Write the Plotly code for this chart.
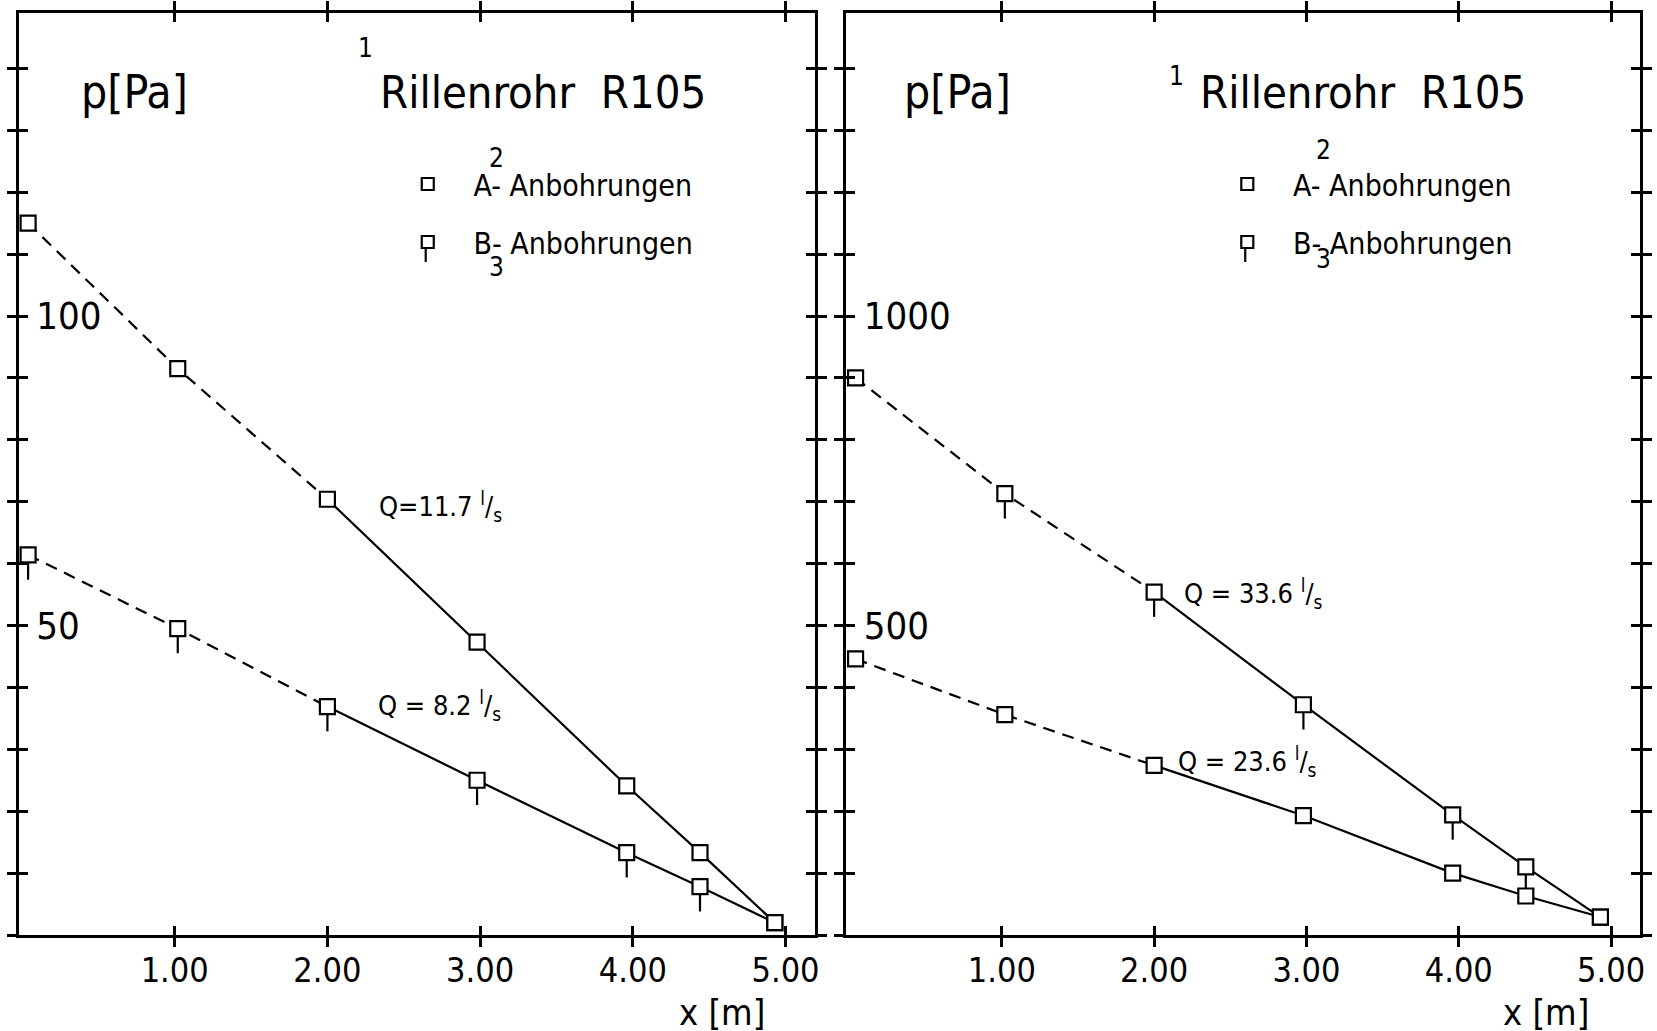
import plotly.graph_objects as go

# ---------------- data ----------------
x_pos = [0.04, 1.02, 2.00, 2.98, 3.96, 4.44, 4.93]

# left panel: Q = 11.7 l/s and Q = 8.2 l/s   (p in Pa)
left_q117 = [115.0, 91.5, 70.4, 47.3, 24.1, 13.3, 2.0]
left_q82 = [61.4, 49.5, 36.9, 25.0, 13.3, 7.8, 2.0]
left_q117_type = ["A", "A", "A", "A", "A", "A", "A"]
left_q82_type = ["B", "B", "B", "B", "B", "B", "A"]

# right panel: Q = 33.6 l/s and Q = 23.6 l/s   (p in Pa)
right_q336 = [900, 713, 554, 372, 194, 110, 29]
right_q236 = [446, 356, 274, 193, 100, 63, 29]
right_q336_type = ["A", "B", "B", "B", "B", "B", "A"]
right_q236_type = ["A", "A", "A", "A", "A", "A", "A"]

x_ticks = [1, 2, 3, 4, 5]
x_ticklabels = ["1.00", "2.00", "3.00", "4.00", "5.00"]
left_yticks = list(range(0, 151, 10))
left_ylabels = {50: "50", 100: "100"}
right_yticks = list(range(0, 1501, 100))
right_ylabels = {500: "500", 1000: "1000"}

series_labels = ["A- Anbohrungen", "B- Anbohrungen"]
title_text = "Rillenrohr  R105"

FONT = "Liberation Sans Narrow, DejaVu Sans Condensed, Roboto, DejaVu Sans"
W, H = 1657, 1031
NB = "\u00a0\u00a0\u00a0"


def px(v):
    return v / W


def py(v):
    return 1 - v / H


fig = go.Figure()
MSIZE = 15
DASH = "12px,8px"


def add_series(xs, ys, types, xa, ya, stem):
    fig.add_trace(go.Scatter(x=xs[:3], y=ys[:3], mode="lines", xaxis=xa, yaxis=ya,
                             line=dict(color="black", width=2.2, dash=DASH),
                             showlegend=False, hoverinfo="skip"))
    fig.add_trace(go.Scatter(x=xs[2:], y=ys[2:], mode="lines", xaxis=xa, yaxis=ya,
                             line=dict(color="black", width=2.2),
                             showlegend=False, hoverinfo="skip"))
    bx = [x for x, t in zip(xs, types) if t == "B"]
    by = [y for y, t in zip(ys, types) if t == "B"]
    ax_ = [x for x, t in zip(xs, types) if t == "A"]
    ay_ = [y for y, t in zip(ys, types) if t == "A"]
    if bx:
        fig.add_trace(go.Scatter(x=bx, y=by, mode="markers", xaxis=xa, yaxis=ya,
                                 marker=dict(symbol="square", size=MSIZE, color="white",
                                             line=dict(color="black", width=2.2)),
                                 error_y=dict(type="constant", symmetric=False, value=0,
                                              valueminus=stem, width=0, thickness=2.2,
                                              color="black"),
                                 showlegend=False))
    if ax_:
        fig.add_trace(go.Scatter(x=ax_, y=ay_, mode="markers", xaxis=xa, yaxis=ya,
                                 marker=dict(symbol="square", size=MSIZE, color="white",
                                             line=dict(color="black", width=2.2)),
                                 showlegend=False))


add_series(x_pos, left_q117, left_q117_type, "x", "y", 4.0)
add_series(x_pos, left_q82, left_q82_type, "x", "y", 4.0)
add_series(x_pos, right_q336, right_q336_type, "x2", "y2", 40)
add_series(x_pos, right_q236, right_q236_type, "x2", "y2", 40)

# legend entries
for xa, ya, lg in [("x", "y", "legend"), ("x2", "y2", "legend2")]:
    for i, lab in enumerate(series_labels):
        fig.add_trace(go.Scatter(x=[None], y=[None], mode="markers", xaxis=xa, yaxis=ya,
                                 name=NB + lab, legend=lg, legendgroup=lg + str(i),
                                 marker=dict(symbol="square", size=12, color="white",
                                             line=dict(color="black", width=2.2))))

xdom_l = [px(19), px(817)]
xdom_r = [px(849), px(1645)]
ydom = [py(935), py(12.7)]
XR = [-0.02, 5.19]

common_x = dict(range=XR, tickvals=x_ticks, ticks="outside", ticklen=9, tickwidth=2.5,
                tickcolor="black", showline=True, linewidth=3, linecolor="black",
                mirror="allticks", showgrid=False, zeroline=False, showticklabels=False)
common_y = dict(ticks="outside", ticklen=9, tickwidth=2.5, tickcolor="black",
                showline=True, linewidth=3, linecolor="black", mirror="allticks",
                showgrid=False, zeroline=False, ticklabelposition="inside",
                ticklabelstandoff=22,
                tickfont=dict(family=FONT, size=38, color="black"),
                domain=ydom)

over_x = dict(ticks="inside", ticklen=9, tickwidth=2.5, tickcolor="black",
              showticklabels=True, showline=False, mirror="allticks",
              showgrid=False, zeroline=False, range=XR, tickvals=x_ticks,
              ticktext=x_ticklabels, ticklabelstandoff=12,
              tickfont=dict(family=FONT, size=34, color="black"))
over_y = dict(ticks="inside", ticklen=9, tickwidth=2.5, tickcolor="black",
              showticklabels=False, showline=False, mirror="allticks",
              showgrid=False, zeroline=False)

legend_common = dict(xanchor="left", yanchor="top", bgcolor="rgba(0,0,0,0)",
                     tracegroupgap=16, font=dict(family=FONT, size=30, color="black"))

fig.update_layout(
    width=W, height=H,
    margin=dict(l=0, r=0, t=0, b=0),
    paper_bgcolor="white", plot_bgcolor="white",
    showlegend=True,
    xaxis=dict(domain=xdom_l, anchor="y", **common_x),
    yaxis=dict(anchor="x", range=[0, 149], tickvals=left_yticks,
               ticktext=[left_ylabels.get(v, "") for v in left_yticks], **common_y),
    xaxis2=dict(domain=xdom_r, anchor="y2", **common_x),
    yaxis2=dict(anchor="x2", range=[0, 1490], tickvals=right_yticks,
                ticktext=[right_ylabels.get(v, "") for v in right_yticks], **common_y),
    xaxis3=dict(overlaying="x", anchor="y", side="bottom", **over_x),
    yaxis3=dict(overlaying="y", anchor="x", range=[0, 149], tickvals=left_yticks, **over_y),
    xaxis4=dict(overlaying="x2", anchor="y2", side="bottom", **over_x),
    yaxis4=dict(overlaying="y2", anchor="x2", range=[0, 1490], tickvals=right_yticks, **over_y),
    legend=dict(x=px(409), y=py(158), **legend_common),
    legend2=dict(x=px(1231), y=py(158), **legend_common),
)

fig.add_trace(go.Scatter(x=[None], y=[None], xaxis="x3", yaxis="y3", showlegend=False))
fig.add_trace(go.Scatter(x=[None], y=[None], xaxis="x4", yaxis="y4", showlegend=False))


def ann(x, y, text, size, xanchor="center"):
    fig.add_annotation(x=px(x), y=py(y), xref="paper", yref="paper", text=text,
                       showarrow=False, xanchor=xanchor, yanchor="middle",
                       font=dict(family=FONT, size=size, color="black"))


# left panel texts
ann(135, 92, "p[Pa]", 46)
ann(367, 48, "1", 26)
ann(545, 92, title_text, 45)
ann(498, 158, "2", 26)
ann(498, 267, "3", 26)
ann(378, 507, "Q=11.7 <sup>l</sup>/<sub>s</sub>", 27, "left")
ann(377, 705, "Q = 8.2 <sup>l</sup>/<sub>s</sub>", 27, "left")
ann(724, 1012, "x [m]", 36)

# right panel texts
ann(960, 92, "p[Pa]", 46)
ann(1180, 76, "1", 26)
ann(1367, 92, title_text, 45)
ann(1328, 150, "2", 26)
ann(1328, 259, "3", 26)
ann(1186, 593, "Q = 33.6 <sup>l</sup>/<sub>s</sub>", 27, "left")
ann(1180, 761, "Q = 23.6 <sup>l</sup>/<sub>s</sub>", 27, "left")
ann(1551, 1012, "x [m]", 36)

# stems under the B legend symbols (legend decoration)
for sx in (427, 1249):
    fig.add_shape(type="line", xref="paper", yref="paper",
                  x0=px(sx), x1=px(sx), y0=py(249), y1=py(262),
                  line=dict(color="black", width=2.2))

fig.write_html("out.html")
